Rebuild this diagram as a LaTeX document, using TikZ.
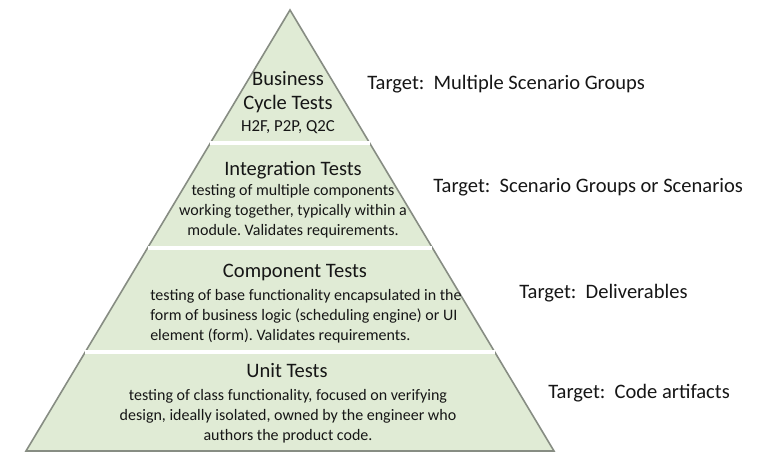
\documentclass[tikz,border=0pt]{standalone}
\usepackage{fontspec}
\setmainfont{Carlito}
\usetikzlibrary{calc}
\definecolor{pyrfill}{HTML}{E0EBD5}
\definecolor{pyredge}{HTML}{878D83}
\definecolor{txt}{HTML}{161616}
\frenchspacing
\begin{document}
\begin{tikzpicture}[x=0.75pt,y=-0.75pt,
  edge/.style={draw=pyredge, line width=1.2pt, line join=miter},
  gapline/.style={draw=white, line width=2.6pt},
  title/.style={font=\fontsize{15.4}{19}\selectfont, text=txt, inner sep=0pt, anchor=base},
  sub/.style={font=\fontsize{12.6}{15}\selectfont, text=txt, inner sep=0pt, anchor=base},
  body/.style={font=\fontsize{12}{15}\selectfont, text=txt, inner sep=0pt},
  target/.style={font=\fontsize{15.4}{19}\selectfont, text=txt, inner sep=0pt, anchor=base west}]
\useasboundingbox (0,0) rectangle (768,465);
\fill[white] (0,0) rectangle (768,465);
% pyramid
\coordinate (A) at (290,10);
\coordinate (BL) at (26,451);
\coordinate (BR) at (554,451);
\fill[pyrfill] (A) -- (BL) -- (BR) -- cycle;
\draw[edge] (A) -- (BL) -- (BR) -- cycle;
\coordinate (d1l) at ($(A)!0.30159!(BL)$);
\coordinate (d1r) at ($(A)!0.30159!(BR)$);
\coordinate (d2l) at ($(A)!0.53968!(BL)$);
\coordinate (d2r) at ($(A)!0.53968!(BR)$);
\coordinate (d3l) at ($(A)!0.77551!(BL)$);
\coordinate (d3r) at ($(A)!0.77551!(BR)$);
\draw[gapline] (d1l) -- (d1r);
\draw[gapline] (d2l) -- (d2r);
\draw[gapline] (d3l) -- (d3r);
% tier 1
\node[title] (bus1) at (288,85) {Business};
\node[title] (bus2) at (288,109) {Cycle Tests};
\node[sub] (bus3) at (288,131) {H2F, P2P, Q2C};
% tier 2
\node[title] (int) at (293,175) {Integration Tests};
\node[body, align=center] (intb) at (293,211) {testing of multiple components\\working together, typically within a\\module. Validates requirements.};
% tier 3
\node[title] (comp) at (295,277) {Component Tests};
\node[body, align=left, anchor=west] (compb) at (150,316) {testing of base functionality encapsulated in the\\form of business logic (scheduling engine) or UI\\element (form). Validates requirements.};
% tier 4
\node[title] (unit) at (287,377) {Unit Tests};
\node[body, align=center] (unitb) at (288,416) {testing of class functionality, focused on verifying\\design, ideally isolated, owned by the engineer who\\authors the product code.};
% targets
\node[target] (t1) at (367,89) {Target:\ \ Multiple Scenario Groups};
\node[target] (t2) at (433,192) {Target:\ \ Scenario Groups or Scenarios};
\node[target] (t3) at (519,298) {Target:\ \ Deliverables};
\node[target] (t4) at (548,398) {Target:\ \ Code artifacts};
\end{tikzpicture}
\end{document}
